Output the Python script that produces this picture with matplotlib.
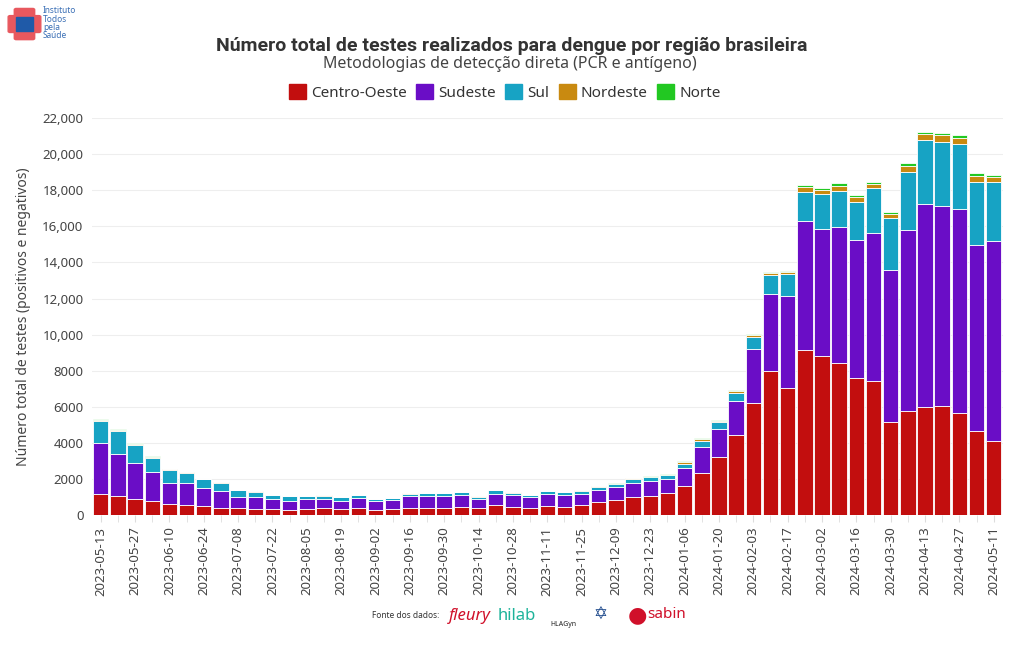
import matplotlib.pyplot as plt
import matplotlib.patches as mpatches
import numpy as np
import pandas as pd

plt.rcParams['font.family'] = ['Noto Sans', 'DejaVu Sans']

semanas = pd.date_range("2023-05-13", "2024-05-11", freq="7D").strftime("%Y-%m-%d").tolist()

centro_oeste = [1150, 1050, 870, 775, 610, 535, 480, 390, 370, 315, 320, 240, 315, 350, 315, 370, 275, 295,
                405, 405, 405, 425, 350, 555, 460, 370, 480, 460, 535, 700, 810, 970, 1070, 1235, 1605, 2345,
                3195, 4415, 6230, 7960, 7015, 9120, 8790, 8400, 7575, 7440, 5170, 5745, 5965, 6020, 5630, 4635, 4085]
sudeste = [2820, 2310, 1990, 1625, 1180, 1220, 980, 920, 645, 680, 530, 550, 535, 520, 475, 535, 465, 515,
           645, 630, 630, 665, 535, 625, 630, 590, 700, 650, 610, 685, 705, 820, 795, 725, 980, 1405,
           1550, 1885, 2985, 4265, 5100, 7205, 7090, 7595, 7700, 8210, 8420, 10085, 11305, 11135, 11360, 10360, 11110]
sul = [1255, 1310, 1040, 775, 720, 555, 500, 445, 370, 295, 260, 245, 200, 200, 210, 185, 110, 95,
       130, 185, 165, 185, 130, 185, 145, 150, 130, 145, 200, 185, 200, 220, 240, 240, 240, 365,
       405, 475, 645, 1090, 1235, 1590, 1920, 1995, 2085, 2470, 2865, 3210, 3525, 3525, 3600, 3490, 3270]
nordeste = [40, 50, 40, 45, 10, 40, 15, 45, 10, 10, 5, 8, 10, 8, 5, 10, 5, 8,
            10, 8, 10, 8, 8, 10, 8, 8, 10, 10, 10, 15, 12, 25, 20, 20, 80, 80,
            70, 75, 100, 85, 120, 255, 245, 275, 260, 255, 220, 335, 315, 370, 335, 335, 300]
norte = [50, 40, 30, 30, 10, 30, 15, 30, 5, 10, 5, 7, 10, 7, 5, 10, 5, 7,
         10, 7, 10, 7, 7, 10, 7, 7, 10, 10, 10, 15, 13, 20, 15, 20, 85, 70,
         60, 60, 70, 60, 65, 110, 90, 130, 125, 105, 110, 125, 125, 150, 125, 125, 110]

regioes = ["Centro-Oeste", "Sudeste", "Sul", "Nordeste", "Norte"]
series = [centro_oeste, sudeste, sul, nordeste, norte]
cores = ["#C20E0E", "#6A0DC6", "#17A3C4", "#C98A10", "#22C822"]

fig = plt.figure(figsize=(10.2, 6.5), dpi=100)
ax = fig.add_axes([0.090, 0.208, 0.893, 0.610])

x = np.arange(len(semanas))
base = np.zeros(len(semanas))
for nome, valores, cor in zip(regioes, series, cores):
    ax.bar(x, valores, bottom=base, width=0.9, color=cor, edgecolor="white", linewidth=0.6, label=nome, zorder=3)
    base += np.array(valores)

ax.set_xlim(-0.52, len(semanas) - 0.48)
ax.set_ylim(0, 22000)
yt = np.arange(0, 22001, 2000)
ax.set_yticks(yt)
ax.set_yticklabels([f"{v:,}" if v >= 10000 else f"{v}" for v in yt], fontsize=9.5, color="#444444")
ax.set_xticks(x[::2])
ax.set_xticklabels(semanas[::2], rotation=90, fontsize=9.5, color="#444444")
ax.set_xticks(x, minor=True)
ax.tick_params(axis="x", which="both", length=5, color="#dddddd")
ax.tick_params(axis="y", length=0, pad=6)
ax.grid(axis="y", color="#eeeeee", linewidth=0.8, zorder=0)
for s in ax.spines.values():
    s.set_visible(False)
ax.set_ylabel("Número total de testes (positivos e negativos)", fontsize=10, color="#444444", labelpad=8)

fig.text(0.502, 0.930, "Número total de testes realizados para dengue por região brasileira",
         ha="center", va="center", fontsize=14, fontweight="bold", color="#333333",
         family=["Roboto", "DejaVu Sans"])
fig.text(0.500, 0.902, "Metodologias de detecção direta (PCR e antígeno)",
         ha="center", va="center", fontsize=11.5, color="#444444")

handles = [mpatches.Patch(color=c, label=n) for n, c in zip(regioes, cores)]
fig.legend(handles=handles, loc="center", bbox_to_anchor=(0.495, 0.858), ncol=5, frameon=False,
           fontsize=11, handlelength=1.1, handleheight=1.1, handletextpad=0.35, columnspacing=0.6,
           labelcolor="#333333")

# logo Instituto Todos pela Saúde
fig.patches.append(mpatches.FancyBboxPatch((0.010, 0.952), 0.028, 0.022, boxstyle="round,pad=0.002",
                                           transform=fig.transFigure, color="#E8585E"))
fig.patches.append(mpatches.FancyBboxPatch((0.016, 0.941), 0.016, 0.044, boxstyle="round,pad=0.002",
                                           transform=fig.transFigure, color="#E8585E"))
fig.patches.append(mpatches.Rectangle((0.016, 0.952), 0.016, 0.022, transform=fig.transFigure, color="#1F5AA8"))
fig.text(0.042, 0.964, "Instituto\nTodos\npela\nSaúde", fontsize=6, color="#3A6FB5", va="center",
         linespacing=0.9)

# fonte dos dados
fig.text(0.365, 0.053, "Fonte dos dados:", fontsize=6, color="#333333", va="center")
fig.text(0.440, 0.053, "fleury", fontsize=12, style="italic", color="#D0102A", va="center")
fig.text(0.488, 0.053, "hilab", fontsize=12, fontweight="bold", color="#1DB39A", va="center")
fig.text(0.540, 0.040, "HLAGyn", fontsize=5, fontweight="bold", color="#222222", va="center")
fig.text(0.582, 0.055, "\u2721", fontsize=12, color="#1F4A8C", va="center", family=["DejaVu Sans"])
fig.text(0.615, 0.053, "\u25CF", fontsize=16, color="#D0102A", va="center", family=["DejaVu Sans"])
fig.text(0.635, 0.055, "sabin", fontsize=11, fontweight="bold", color="#D0102A", va="center")

fig.savefig("out.png", dpi=100)
